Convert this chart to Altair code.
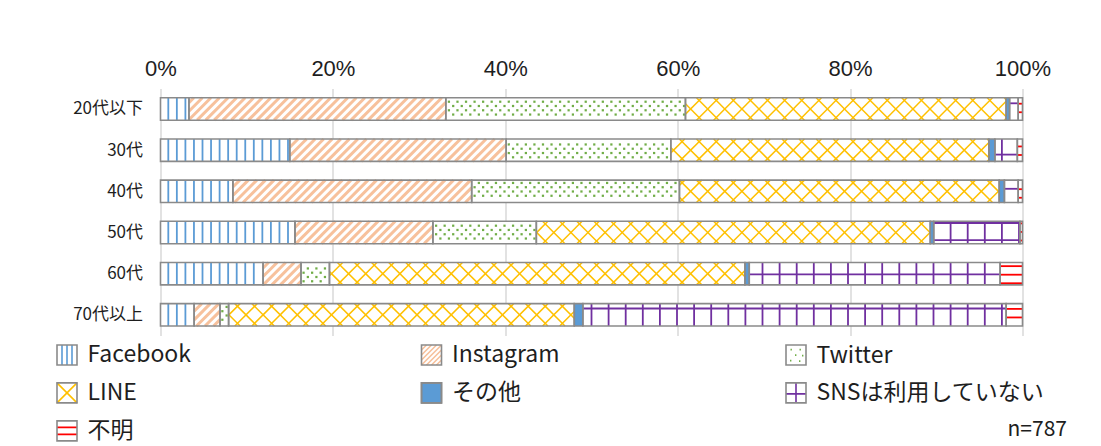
import json
import math
import altair as alt
import pandas as pd

# ---------------- data ----------------
ages = ["20代以下", "30代", "40代", "50代", "60代", "70代以上"]
media = ["Facebook", "Instagram", "Twitter", "LINE", "その他", "SNSは利用していない", "不明"]
facebook = [3.3, 15.0, 8.4, 15.6, 11.9, 3.9]
instagram = [29.8, 25.1, 27.7, 16.0, 4.4, 3.0]
twitter = [27.8, 19.1, 24.1, 12.0, 3.3, 1.0]
line_app = [37.2, 36.9, 37.1, 45.7, 48.2, 40.1]
other = [0.4, 0.7, 0.6, 0.4, 0.5, 1.0]
no_sns = [1.0, 2.6, 1.6, 10.0, 29.1, 49.1]
unknown = [0.5, 0.6, 0.5, 0.3, 2.6, 1.9]
x_ticks = [0, 20, 40, 60, 80, 100]
note = "n=787"

series = [facebook, instagram, twitter, line_app, other, no_sns, unknown]

# ---------------- style ----------------
FONT = "Noto Sans CJK JP"
NUM_FONT = "Liberation Sans"
INK = "#1E1E1E"
EDGE = "#8A8A8A"
GRID = "#D9D9D9"
C_FB, C_IG, C_TW, C_LINE = "#5B9BD5", "#F7C19C", "#70AD47", "#FFC000"
C_OTHER, C_NONE, C_UNK = "#5B9BD5", "#7030A0", "#FF0000"

W, H = 862, 247
ROW = H / len(ages)
PXP = W / 100.0
HALF = 11.2
U = 8.55

# ---------------- segment table ----------------
segs = []
for i, age in enumerate(ages):
    cum = 0.0
    for m, vals in zip(media, series):
        v = vals[i]
        segs.append(dict(age=age, media=m, value=v, x0=cum, x1=cum + v,
                         yt=i - HALF / ROW, yb=i + HALF / ROW, row=i,
                         bg=C_OTHER if m == media[4] else "#FFFFFF"))
        cum += v
seg_df = pd.DataFrame(segs)

# ---------------- fill textures (derived from the segments) ----------------
lines = []
dots = []


def add(ax, ay, bx, by, color, width):
    lines.append(dict(x=ax / PXP, x2=bx / PXP, y=ay / ROW - 0.5, y2=by / ROW - 0.5,
                      c=color, w=width))


def vstripes(l, r, t, b, period, offset, color, width, m=0.8):
    k = math.ceil((l + m - offset) / period)
    while offset + k * period < r - m:
        x = offset + k * period
        add(x, t, x, b, color, width)
        k += 1


def hstripes(l, r, t, b, period, offset, color, width, m=0.8):
    k = math.ceil((t + m - offset) / period)
    while offset + k * period < b - m:
        y = offset + k * period
        add(l, y, r, y, color, width)
        k += 1


def diagonals(l, r, t, b, period, phase, rising, color, width):
    lo, hi = (l + t, r + b) if rising else (l - b, r - t)
    k = math.ceil((lo - phase) / period)
    while phase + k * period < hi:
        c = phase + k * period
        if rising:
            xa, xb = max(l, c - b), min(r, c - t)
            if xb - xa > 0.3:
                add(xa, c - xa, xb, c - xb, color, width)
        else:
            xa, xb = max(l, c + t), min(r, c + b)
            if xb - xa > 0.3:
                add(xa, xa - c, xb, xb - c, color, width)
        k += 1


def speckle(l, r, t, b, period, ox, oy, m=2.5):
    step = period / 2
    j = math.ceil((t + m - oy) / step)
    while oy + j * step < b - m:
        y = oy + j * step
        xo = ox + (j % 2) * step
        k = math.ceil((l + 1.2 - xo) / period)
        while xo + k * period < r - 1.2:
            dots.append(dict(x=(xo + k * period) / PXP, y=y / ROW - 0.5))
            k += 1
        j += 1


for s in segs:
    l, r = s["x0"] * PXP, s["x1"] * PXP
    cy = (s["row"] + 0.5) * ROW
    t, b = cy - HALF, cy + HALF
    m = s["media"]
    if m == media[0]:
        vstripes(l, r, t, b, U, 7.8, C_FB, 1.8)
    elif m == media[1]:
        diagonals(l, r, t, b, U, 0.0, True, C_IG, 3.0)
    elif m == media[2]:
        speckle(l, r, t, b, U, 2.0, 0.5)
    elif m == media[3]:
        diagonals(l, r, t, b, 2 * U, cy, True, C_LINE, 1.5)
        diagonals(l, r, t, b, 2 * U, -cy, False, C_LINE, 1.5)
    elif m == media[5]:
        vstripes(l, r, t, b, 2 * U, 3.5, C_NONE, 1.8)
        hstripes(l, r, t, b, 2 * U, 14.9, C_NONE, 1.8)
    elif m == media[6]:
        hstripes(l, r, t, b, U, 15.3, C_UNK, 1.8)

lines_df = pd.DataFrame(lines)
dots_df = pd.DataFrame(dots)

# ---------------- scales / axes ----------------
xs = alt.Scale(domain=[0, 100], nice=False, zero=False)
ys = alt.Scale(domain=[-0.5, len(ages) - 0.5], reverse=True, nice=False, zero=False)
xaxis = alt.Axis(orient="top", values=x_ticks, labelExpr="datum.value + '%'", title=None,
                 grid=True, gridColor=GRID, gridWidth=1.5, ticks=False, domain=False,
                 labelFlush=False, labelFont=NUM_FONT, labelFontSize=22, labelColor=INK,
                 labelPadding=8)
yaxis = alt.Axis(values=list(range(len(ages))),
                 labelExpr=json.dumps(ages, ensure_ascii=False) + "[datum.value]",
                 title=None, grid=False, ticks=False, domain=False,
                 labelFont=FONT, labelFontSize=17, labelColor=INK, labelPadding=18)


def X(f):
    return alt.X(f, scale=xs, axis=xaxis)


def Y(f):
    return alt.Y(f, scale=ys, axis=yaxis)


base = alt.Chart(seg_df)

bg = base.mark_rect().encode(
    x=X("x0:Q"), x2="x1:Q", y=Y("yt:Q"), y2="yb:Q",
    fill=alt.Fill("bg:N", scale=None))

tex = alt.Chart(lines_df).mark_rule().encode(
    x=X("x:Q"), x2="x2:Q", y=Y("y:Q"), y2="y2:Q",
    stroke=alt.Stroke("c:N", scale=None),
    strokeWidth=alt.StrokeWidth("w:Q", scale=None))

dot_layer = alt.Chart(dots_df).mark_square(size=5, opacity=1, color=C_TW).encode(
    x=X("x:Q"), y=Y("y:Q"))

border = base.mark_rect(fillOpacity=0, stroke=EDGE, strokeWidth=1.6).encode(
    x=X("x0:Q"), x2="x1:Q", y=Y("yt:Q"), y2="yb:Q")

# ---------------- legend ----------------
swatch_paths = [
    "M-0.5,-1V1M0,-1V1M0.5,-1V1",
    "M-1,0L0,-1M-1,1L1,-1M0,1L1,0M-1,-0.5L-0.5,-1M-1,0.5L0.5,-1M-0.5,1L1,-0.5M0.5,1L1,0.5",
    "M-0.55,-0.6h0.14M0.35,-0.6h0.14M-0.1,-0.05h0.14M0.6,0h0.14M-0.6,0.5h0.14M0.3,0.55h0.14",
    "M-1,-1L1,1M-1,1L1,-1",
    "M-1,-1H1V1H-1Z",
    "M0,-1V1M-1,0.1H1",
    "M-1,-0.35H1M-1,0.35H1",
]
swatch_fill = ["transparent", "transparent", "transparent", "transparent", C_OTHER,
               "transparent", "transparent"]
swatch_stroke = [C_FB, C_IG, C_TW, C_LINE, EDGE, C_NONE, C_UNK]

LEG = dict(title=None, orient="none", direction="horizontal", legendX=-105, legendY=255,
           columns=3, columnPadding=101.5, rowPadding=11, symbolSize=400,
           symbolStrokeWidth=1.6, symbolOpacity=1, labelFont=FONT, labelFontSize=23,
           labelColor=INK, labelOffset=9, gridAlign="all", padding=0, labelLimit=0)

legA = base.transform_filter("false").mark_point(filled=True, opacity=1).encode(
    x=X("x0:Q"), y=Y("yt:Q"),
    shape=alt.Shape("media:N", scale=alt.Scale(domain=media, range=swatch_paths),
                    legend=alt.Legend(**LEG)),
    fill=alt.Fill("media:N", scale=alt.Scale(domain=media, range=swatch_fill),
                  legend=alt.Legend(**LEG)),
    stroke=alt.Stroke("media:N", scale=alt.Scale(domain=media, range=swatch_stroke),
                      legend=alt.Legend(**LEG)))

legB = base.transform_calculate(media2="datum.media").transform_filter("false").mark_point(
    filled=False, opacity=1, shape="square").encode(
    x=X("x0:Q"), y=Y("yt:Q"),
    color=alt.Color("media2:N", scale=alt.Scale(domain=media, range=[EDGE] * len(media)),
                    legend=alt.Legend(symbolType="square", labelOpacity=0, **LEG)))

note_layer = alt.Chart(pd.DataFrame({"t": [note]})).mark_text(
    align="right", baseline="middle", font=FONT, fontSize=21, color=INK).encode(
    text="t:N", x=alt.value(W + 44.5), y=alt.value(341.6))

chart = alt.layer(bg, tex, dot_layer, border, legA, legB, note_layer).resolve_legend(
    color="independent").properties(
    width=W, height=H,
    padding={"left": 152.5, "top": 80.4, "right": 70.5, "bottom": 110.6},
    autosize=alt.AutoSizeParams(type="none"),
    background="#FFFFFF",
).configure_view(strokeWidth=0)

chart.save("out.html", embed_options={"renderer": "svg", "actions": False})
